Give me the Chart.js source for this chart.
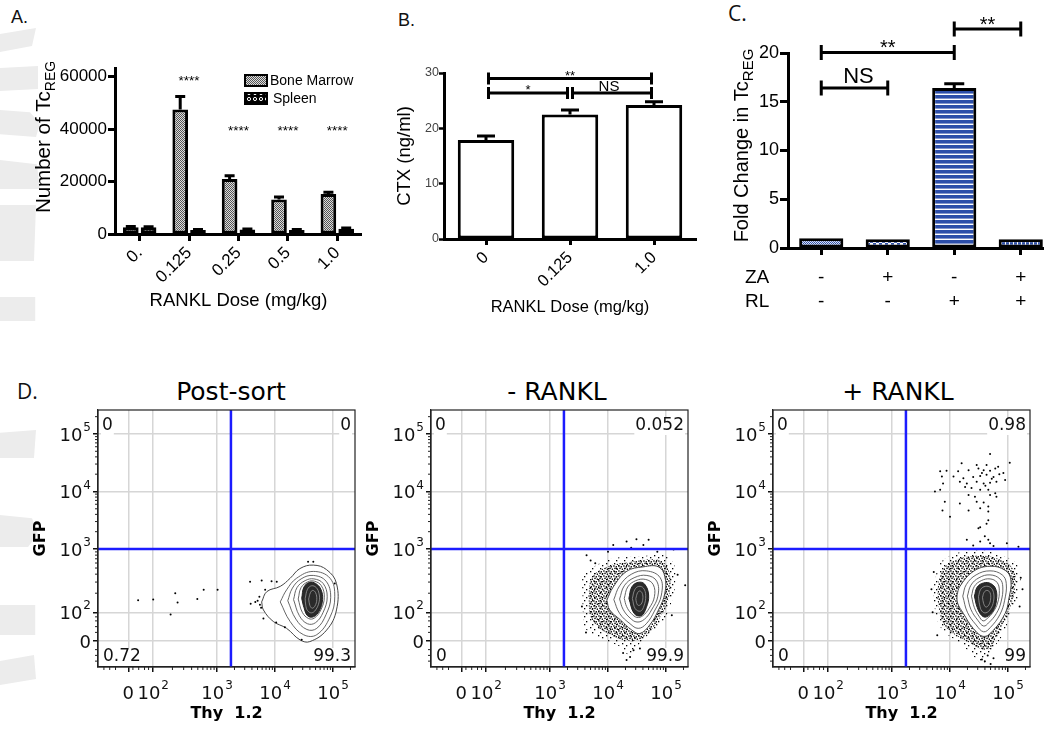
<!DOCTYPE html>
<html>
<head>
<meta charset="utf-8">
<script src="https://cdn.jsdelivr.net/npm/chart.js@4.4.1/dist/chart.umd.min.js"></script>
<style>
  html, body { margin: 0; padding: 0; background: #fff; }
  body { width: 1044px; height: 732px; position: relative; overflow: hidden; font-family: 'Liberation Sans', Arial, sans-serif; }
  canvas { position: absolute; }
  .txt { position: absolute; white-space: nowrap; color: #111; line-height: 1; }
  .ttl { position: absolute; width: 220px; text-align: center; font-family: 'DejaVu Sans', sans-serif; font-size: 25px; line-height: 25px; color: #000; }
  .ghost { position: absolute; left: 0; width: 40px; background: #ececec; }
</style>
</head>
<body>
<!-- faint grey marks along the left edge -->
<div class="ghost" style="top:28px;height:24px;clip-path:polygon(0 25%,90% 0,80% 75%,0 100%)"></div>
<div class="ghost" style="top:66px;height:25px;clip-path:polygon(0 8%,95% 0,95% 92%,0 100%)"></div>
<div class="ghost" style="top:110px;height:27px;clip-path:polygon(0 0,75% 8%,100% 50%,90% 100%,0 90%)"></div>
<div class="ghost" style="top:160px;height:29px;clip-path:polygon(0 0,92% 15%,100% 100%,0 100%)"></div>
<div class="ghost" style="top:205px;height:56px;clip-path:polygon(0 0,90% 0,85% 100%,0 100%)"></div>
<div class="ghost" style="top:297px;height:24px;clip-path:polygon(0 0,88% 0,88% 100%,0 100%)"></div>
<div class="ghost" style="top:430px;height:28px;clip-path:polygon(0 10%,90% 0,85% 100%,0 100%)"></div>
<div class="ghost" style="top:515px;height:32px;clip-path:polygon(0 0,80% 10%,95% 60%,70% 100%,0 100%)"></div>
<div class="ghost" style="top:605px;height:30px;clip-path:polygon(0 0,88% 0,88% 100%,0 100%)"></div>
<div class="ghost" style="top:655px;height:30px;clip-path:polygon(0 20%,85% 0,90% 80%,0 100%)"></div>

<div class="txt" style="left:11px;top:8px;font-size:18px;">A.</div>
<div class="txt" style="left:398px;top:11px;font-size:18px;">B.</div>
<div class="txt" style="left:728px;top:3px;font-size:21px;font-family:'Open Sans',sans-serif;">C.</div>
<div class="txt" style="left:17px;top:381px;font-size:21px;font-family:'Open Sans',sans-serif;">D.</div>
<div class="ttl" style="left:121px;top:379px;">Post-sort</div>
<div class="ttl" style="left:447px;top:379px;">- RANKL</div>
<div class="ttl" style="left:788px;top:379px;">+ RANKL</div>

<canvas id="cA" width="362" height="320" style="left:0;top:0"></canvas>
<canvas id="cB" width="340" height="320" style="left:360px;top:0"></canvas>
<canvas id="cC" width="370" height="320" style="left:690px;top:0"></canvas>
<canvas id="cD1" width="362" height="362" style="left:0;top:370px"></canvas>
<canvas id="cD2" width="362" height="362" style="left:333px;top:370px"></canvas>
<canvas id="cD3" width="362" height="362" style="left:675px;top:370px"></canvas>

<script>
// ---------- panel A ----------
const doseLabelsA = ['0.', '0.125', '0.25', '0.5', '1.0'];
const marrowCounts = [2600, 47500, 21000, 13200, 15300];
const marrowErr = [300, 4900, 1200, 900, 600];
const spleenCounts = [2600, 1500, 1700, 1500, 2000];
const spleenErr = [200, 200, 200, 200, 300];
const starTextA = ['', '****', '****', '****', '****'];
const starLevelsA = [null, 56800, 37800, 37800, 37800];
const yTicksA = [0, 20000, 40000, 60000];

// ---------- panel B ----------
const doseLabelsB = ['0', '0.125', '1.0'];
const ctxValues = [17.9, 22.5, 24.2];
const ctxErr = [0.7, 0.8, 0.6];
const bracketsB = [
  { from: 0, to: 2, level: 29.0, text: '**' },
  { from: 0, to: 1, level: 26.4, text: '*' },
  { from: 1, to: 2, level: 26.4, text: 'NS' }
];

// ---------- panel C ----------
const zaRow = ['-', '+', '-', '+'];
const rlRow = ['-', '-', '+', '+'];
const foldChange = [1.0, 0.9, 16.4, 0.9];
const foldErr = [0, 0, 0.45, 0];
const bracketsC = [
  { from: 0, to: 1, level: 16.4, text: 'NS' },
  { from: 0, to: 2, level: 20.06, text: '**' },
  { from: 2, to: 3, level: 22.47, text: '**' }
];

// ---------- panel D (axis units: 3 = 10^3, 4 = 10^4 ...) ----------
const flowTickLabels = ['0', '10^2', '10^3', '10^4', '10^5'];
const flowXTicks = [1.47, 1.9, 3, 4, 5];
const flowYTicks = [1.40, 1.9, 3, 4, 5];
const gateThy = 3.24;
const gateGfp = 3.0;

const postSortCorners = ['0', '0', '0.72', '99.3'];
const postSortEvents = [[1.64,2.11],[1.90,2.12],[2.20,1.86],[2.28,2.23],[2.32,2.07],[2.66,2.13],[2.77,2.29],[3.01,2.29],
  [3.57,2.43],[3.77,2.45],[3.94,2.44],[4.03,2.43],[3.58,2.05],[3.66,2.08],[3.73,2.17],[3.74,2.03],[3.80,1.79],[3.83,2.29],
  [4.02,1.72],[4.17,1.64],[4.46,1.42],[4.57,2.78],[4.66,2.78],[5.03,2.40],[3.70,2.10],[3.76,1.98]];
const postSortOuter = [[3.77,2.08],[3.86,2.26],[4.09,2.35],[4.26,2.49],[4.43,2.66],[4.66,2.72],[4.89,2.64],[5.06,2.40],
  [5.06,1.94],[4.89,1.59],[4.60,1.39],[4.43,1.42],[4.20,1.62],[3.97,1.74],[3.80,1.94]];
const postSortRings = [
  [[4.09,2.08],[4.20,2.29],[4.37,2.49],[4.66,2.61],[4.95,2.49],[5.03,2.17],[4.95,1.82],[4.72,1.51],[4.49,1.51],[4.26,1.74]],
  [[4.22,2.10],[4.30,2.32],[4.45,2.48],[4.66,2.54],[4.88,2.44],[4.96,2.16],[4.88,1.86],[4.72,1.62],[4.55,1.60],[4.36,1.78]],
  [[4.32,2.12],[4.38,2.33],[4.52,2.45],[4.67,2.48],[4.83,2.40],[4.90,2.17],[4.83,1.90],[4.70,1.72],[4.56,1.70],[4.42,1.84]],
  [[4.40,2.13],[4.45,2.33],[4.57,2.43],[4.68,2.44],[4.80,2.36],[4.85,2.16],[4.79,1.94],[4.68,1.80],[4.58,1.79],[4.47,1.90]]
];
const postSortCore = [[4.46,2.14],[4.50,2.34],[4.60,2.42],[4.70,2.40],[4.79,2.30],[4.82,2.12],[4.76,1.92],[4.66,1.82],[4.56,1.84],[4.50,1.98]];
const postSortCoreRings = [
  [[4.52,2.14],[4.56,2.30],[4.63,2.36],[4.71,2.33],[4.76,2.22],[4.76,2.08],[4.70,1.94],[4.63,1.89],[4.56,1.93],[4.53,2.02]],
  [[4.58,2.13],[4.61,2.24],[4.65,2.28],[4.70,2.24],[4.72,2.12],[4.69,2.01],[4.64,1.97],[4.60,2.02]]
];

const minusCorners = ['0', '0.052', '0', '99.9'];
const minusEvents = [[4.09,3.07],[4.32,3.13],[4.49,3.17],[4.70,3.16],[4.61,3.07],[4.40,3.02],[5.13,2.99],[3.63,2.89],[3.78,2.75],
  [3.70,2.80],[5.33,2.37],[4.26,1.19],[4.32,1.07],[4.44,1.24],[4.55,1.27],[4.38,1.12],[3.62,1.55],[3.55,2.00],[5.20,2.55],
  [5.10,1.85],[4.85,2.95],[4.00,2.95]];
const minusCloud = [[3.56,2.23],[3.57,2.52],[3.75,2.69],[4.09,2.84],[4.55,2.87],[4.95,2.90],[5.13,2.75],[5.16,2.40],[5.07,2.00],
  [4.93,1.71],[4.72,1.53],[4.55,1.36],[4.38,1.15],[4.21,1.30],[3.92,1.42],[3.63,1.59],[3.57,1.88]];
const minusRim = [[3.66,2.18],[3.72,2.50],[3.95,2.68],[4.40,2.78],[4.90,2.80],[5.05,2.62],[5.06,2.20],[4.92,1.85],[4.70,1.55],
  [4.45,1.40],[4.05,1.50],[3.72,1.78]];
const minusOuter = [[3.98,2.11],[4.09,2.34],[4.32,2.61],[4.61,2.69],[4.87,2.69],[4.98,2.52],[4.98,2.23],[4.87,1.94],[4.72,1.68],
  [4.55,1.53],[4.41,1.59],[4.21,1.77],[4.03,1.94]];
const minusRings = [
  [[4.10,2.12],[4.20,2.36],[4.40,2.56],[4.66,2.62],[4.90,2.50],[4.92,2.20],[4.80,1.92],[4.66,1.70],[4.52,1.62],[4.38,1.70],[4.20,1.88]],
  [[4.20,2.13],[4.28,2.36],[4.45,2.50],[4.67,2.54],[4.84,2.44],[4.86,2.18],[4.75,1.94],[4.63,1.78],[4.50,1.73],[4.38,1.80],[4.26,1.95]],
  [[4.28,2.14],[4.34,2.34],[4.48,2.45],[4.65,2.47],[4.78,2.38],[4.80,2.17],[4.71,1.97],[4.60,1.84],[4.50,1.81],[4.40,1.88],[4.32,2.00]]
];
const minusCore = [[4.36,2.14],[4.41,2.34],[4.52,2.42],[4.63,2.39],[4.70,2.20],[4.66,1.98],[4.57,1.84],[4.45,1.88]];
const minusCoreRings = [
  [[4.42,2.14],[4.46,2.29],[4.53,2.35],[4.61,2.32],[4.65,2.19],[4.62,2.01],[4.56,1.92],[4.47,1.96]],
  [[4.48,2.14],[4.51,2.24],[4.55,2.27],[4.59,2.23],[4.60,2.13],[4.57,2.04],[4.52,2.02],[4.49,2.07]]
];

const plusCorners = ['0', '0.98', '0', '99'];
const plusEvents = [[4.69,4.65],[5.03,4.50],[4.20,4.49],[4.46,4.46],[4.63,4.46],[4.83,4.43],[3.83,4.35],[3.94,4.36],[4.14,4.35],
  [4.32,4.37],[4.49,4.40],[4.58,4.37],[4.69,4.36],[4.78,4.40],[4.92,4.32],[3.86,4.26],[4.06,4.26],[4.23,4.23],[4.40,4.25],
  [4.52,4.27],[4.63,4.29],[4.75,4.25],[4.95,4.20],[3.88,4.14],[4.17,4.17],[4.29,4.14],[4.46,4.17],[4.58,4.14],[4.69,4.15],
  [4.80,4.17],[3.74,4.00],[3.83,4.03],[4.26,4.08],[4.37,4.06],[4.52,4.03],[4.66,4.03],[4.78,3.97],[4.32,3.94],[4.43,3.91],
  [4.69,3.94],[4.80,3.91],[3.91,3.82],[4.17,3.79],[4.46,3.82],[4.58,3.81],[4.66,3.74],[3.87,3.67],[4.32,3.67],[4.52,3.71],
  [4.66,3.65],[4.00,3.56],[4.66,3.50],[4.63,3.44],[4.52,3.38],[4.49,3.36],[4.55,4.32],[4.72,4.22],[4.61,4.10],[4.85,4.30],
  [4.29,3.16],[4.52,3.13],[4.66,3.16],[4.69,3.10],[4.98,3.10],[5.18,3.04],[4.40,3.06],[4.60,3.22],[4.75,3.05],
  [4.60,1.05],[4.70,1.00],[4.75,1.10],[4.65,1.15],[4.55,1.08],[3.68,2.30],[3.70,1.90],[3.78,1.50],[3.72,2.60],
  [5.22,2.50],[5.20,2.00],[5.25,2.30]];
const plusCloud = [[3.71,2.11],[3.74,2.46],[3.88,2.81],[4.40,2.98],[4.86,2.90],[5.18,2.69],[5.18,2.17],[5.09,2.00],[4.92,1.53],
  [4.69,1.19],[4.60,1.00],[4.17,1.36],[3.83,1.65]];
const plusRim = [[3.78,2.12],[3.82,2.50],[3.98,2.75],[4.40,2.88],[4.85,2.82],[5.10,2.62],[5.10,2.20],[4.98,1.85],[4.82,1.52],
  [4.65,1.25],[4.25,1.42],[3.90,1.68]];
const plusOuter = [[4.12,2.20],[4.17,2.35],[4.40,2.61],[4.69,2.70],[4.95,2.63],[5.05,2.46],[5.01,2.11],[4.95,1.88],[4.75,1.59],
  [4.58,1.48],[4.40,1.62],[4.23,1.88],[4.13,2.06]];
const plusRings = [
  [[4.22,2.18],[4.28,2.38],[4.45,2.55],[4.69,2.62],[4.90,2.55],[4.97,2.40],[4.94,2.10],[4.86,1.86],[4.70,1.64],[4.58,1.56],[4.45,1.68],[4.30,1.90]],
  [[4.30,2.18],[4.36,2.37],[4.50,2.50],[4.69,2.55],[4.86,2.48],[4.91,2.34],[4.88,2.08],[4.80,1.88],[4.67,1.72],[4.58,1.66],[4.48,1.76],[4.36,1.95]],
  [[4.37,2.18],[4.42,2.35],[4.54,2.45],[4.69,2.48],[4.81,2.42],[4.85,2.28],[4.82,2.06],[4.74,1.90],[4.64,1.79],[4.57,1.75],[4.50,1.83],[4.42,1.98]]
];
const plusCore = [[4.42,2.18],[4.47,2.34],[4.58,2.41],[4.70,2.40],[4.79,2.30],[4.80,2.10],[4.74,1.92],[4.63,1.82],[4.55,1.84],[4.47,1.98]];
const plusCoreRings = [
  [[4.49,2.17],[4.53,2.30],[4.61,2.35],[4.70,2.33],[4.75,2.24],[4.75,2.09],[4.70,1.96],[4.62,1.89],[4.55,1.92],[4.51,2.03]],
  [[4.56,2.16],[4.59,2.25],[4.64,2.28],[4.69,2.24],[4.70,2.13],[4.67,2.03],[4.62,1.99],[4.58,2.05]]
];

// ---------- shared look ----------
Chart.defaults.font.family = "'Liberation Sans', Arial, sans-serif";
Chart.defaults.color = '#000';
Chart.defaults.animation = false;
Chart.defaults.events = [];
Chart.defaults.plugins.legend.display = false;
Chart.defaults.plugins.tooltip.enabled = false;

const BLUE = '#2c4ea9';
const GATE = '#1c1cff';
const FLOW_X = [0.948, 5.379];
const FLOW_Y = [0.948, 5.417];

function tilePattern(w, h, paint) {
  const c = document.createElement('canvas');
  c.width = w; c.height = h;
  const g = c.getContext('2d');
  paint(g);
  return g.createPattern(c, 'repeat');
}
const patMarrow = tilePattern(2, 2, g => { g.fillStyle = '#dcdcdc'; g.fillRect(0, 0, 2, 2); g.fillStyle = '#555'; g.fillRect(0, 0, 1, 1); g.fillRect(1, 1, 1, 1); });
const patSpleen = tilePattern(6, 6, g => { g.fillStyle = '#000'; g.fillRect(0, 0, 6, 6); g.strokeStyle = '#fff'; g.lineWidth = 1; g.beginPath(); g.arc(3, 3, 1.6, 0, Math.PI * 2); g.stroke(); });
const patC1 = tilePattern(2, 2, g => { g.fillStyle = '#dfe5f4'; g.fillRect(0, 0, 2, 2); g.fillStyle = BLUE; g.fillRect(0, 0, 1, 1); g.fillRect(1, 1, 1, 1); });
const patC2 = tilePattern(6, 6, g => { g.fillStyle = '#fff'; g.fillRect(0, 0, 6, 6); g.fillStyle = BLUE; g.fillRect(0, 0, 3, 3); g.fillRect(3, 3, 3, 3); });
const patC3 = tilePattern(4, 5, g => { g.fillStyle = '#fff'; g.fillRect(0, 0, 4, 5); g.fillStyle = BLUE; g.fillRect(0, 0, 4, 3); g.fillStyle = '#8395cc'; g.fillRect(0, 3, 4, 1); });
const patC4 = tilePattern(4, 4, g => { g.fillStyle = '#fff'; g.fillRect(0, 0, 4, 4); g.fillStyle = BLUE; g.fillRect(0, 0, 3, 4); });
const patDense = tilePattern(5, 5, g => { g.fillStyle = '#000'; [[0.2,0.3],[2.6,1.1],[1.3,2.7],[3.7,3.5]].forEach(p => g.fillRect(p[0], p[1], 1.4, 1.4)); });
const patSparse = tilePattern(8, 8, g => { g.fillStyle = '#000'; [[1,1],[5,3],[3,6]].forEach(p => g.fillRect(p[0], p[1], 1.3, 1.3)); });

const tickGrid = (len, w) => ({ drawOnChartArea: false, drawTicks: true, tickLength: len, tickWidth: w, tickColor: '#000', offset: false });
const axisLine = { color: '#000', width: 3 };

// ---------- plugins ----------
function errorBars(errSets, capHalf, lw) {
  return {
    id: 'errorBars',
    afterDatasetsDraw(chart) {
      const ctx = chart.ctx, ys = chart.scales.y;
      errSets.forEach((errs, di) => {
        const vals = chart.data.datasets[di].data;
        chart.getDatasetMeta(di).data.forEach((bar, i) => {
          if (!errs[i]) return;
          const top = ys.getPixelForValue(vals[i] + errs[i]);
          ctx.save();
          ctx.strokeStyle = '#000'; ctx.lineWidth = lw;
          ctx.beginPath();
          ctx.moveTo(bar.x, bar.y); ctx.lineTo(bar.x, top);
          ctx.moveTo(bar.x - capHalf, top); ctx.lineTo(bar.x + capHalf, top);
          ctx.stroke();
          ctx.restore();
        });
      });
    }
  };
}

function brackets(list, o) {
  return {
    id: 'brackets',
    afterDraw(chart) {
      const { ctx, scales: { x, y } } = chart;
      ctx.save();
      ctx.strokeStyle = '#000'; ctx.fillStyle = '#000'; ctx.lineWidth = o.lw;
      ctx.textAlign = 'center'; ctx.textBaseline = 'alphabetic';
      list.forEach(b => {
        const x1 = x.getPixelForValue(b.from) + o.gap;
        const x2 = x.getPixelForValue(b.to) - o.gap;
        const yy = y.getPixelForValue(b.level);
        ctx.beginPath();
        ctx.moveTo(x1, yy); ctx.lineTo(x2, yy);
        ctx.moveTo(x1, yy - o.cap); ctx.lineTo(x1, yy + o.cap);
        ctx.moveTo(x2, yy - o.cap); ctx.lineTo(x2, yy + o.cap);
        ctx.stroke();
        const ns = b.text === 'NS';
        ctx.font = (ns ? o.nsSize : o.starSize) + "px 'Liberation Sans'";
        ctx.fillText(b.text, (x1 + x2) / 2 + (ns ? o.nsDx : 0), yy + (ns ? o.nsDy : o.starDy));
      });
      ctx.restore();
    }
  };
}

function subTitle(main, sub, cx, cy, size, subSize) {
  return {
    id: 'subTitle',
    afterDraw(chart) {
      const ctx = chart.ctx;
      ctx.save();
      ctx.translate(cx, cy); ctx.rotate(-Math.PI / 2);
      ctx.fillStyle = '#000'; ctx.textAlign = 'left'; ctx.textBaseline = 'alphabetic';
      ctx.font = size + "px 'Liberation Sans'";
      const w1 = ctx.measureText(main).width;
      ctx.font = subSize + "px 'Liberation Sans'";
      const w2 = ctx.measureText(sub).width;
      const x0 = -(w1 + w2) / 2;
      ctx.font = size + "px 'Liberation Sans'";
      ctx.fillText(main, x0, 0);
      ctx.font = subSize + "px 'Liberation Sans'";
      ctx.fillText(sub, x0 + w1, subSize * 0.33);
      ctx.restore();
    }
  };
}

const starsA = {
  id: 'starsA',
  afterDatasetsDraw(chart) {
    const { ctx, scales: { x, y } } = chart;
    ctx.save();
    ctx.font = "13.5px 'Liberation Sans'"; ctx.textAlign = 'center'; ctx.fillStyle = '#000';
    starTextA.forEach((t, i) => { if (t) ctx.fillText(t, x.getPixelForValue(i), y.getPixelForValue(starLevelsA[i])); });
    ctx.restore();
  }
};

const legendA = {
  id: 'legendA',
  afterDraw(chart) {
    const ctx = chart.ctx;
    const rows = [[chart.data.datasets[0], 75, 270], [chart.data.datasets[1], 93, 273]];
    ctx.save();
    rows.forEach(([ds, top, tx]) => {
      ctx.fillStyle = ds.backgroundColor; ctx.fillRect(245, top, 22, 11);
      ctx.strokeStyle = '#000'; ctx.lineWidth = 2; ctx.strokeRect(245, top, 22, 11);
      ctx.fillStyle = '#000'; ctx.font = "14px 'Liberation Sans'"; ctx.textBaseline = 'middle'; ctx.textAlign = 'left';
      ctx.fillText(ds.label, tx, top + 6);
    });
    ctx.restore();
  }
};

const rowNamesC = {
  id: 'rowNamesC',
  afterDraw(chart) {
    const ctx = chart.ctx, top = chart.scales.x.top;
    ctx.save();
    ctx.font = "19px 'Liberation Sans'"; ctx.fillStyle = '#000'; ctx.textBaseline = 'middle'; ctx.textAlign = 'left';
    ['ZA', 'RL'].forEach((t, i) => ctx.fillText(t, 55, top + 18 + 24 * (i + 0.5)));
    ctx.restore();
  }
};

// ---------- A ----------
new Chart(document.getElementById('cA'), {
  type: 'bar',
  data: {
    labels: doseLabelsA,
    datasets: [
      { label: 'Bone Marrow', data: marrowCounts, backgroundColor: patMarrow, borderColor: '#000', borderWidth: 3, borderSkipped: false, categoryPercentage: 0.72, barPercentage: 0.88 },
      { label: 'Spleen', data: spleenCounts, backgroundColor: patSpleen, borderColor: '#000', borderWidth: 3, borderSkipped: false, categoryPercentage: 0.72, barPercentage: 0.88 }
    ]
  },
  options: {
    responsive: false,
    layout: { padding: { top: 68, right: 0, bottom: 0, left: 0 } },
    scales: {
      x: {
        grid: tickGrid(7, 3), border: axisLine,
        ticks: { autoSkip: false, maxRotation: 45, minRotation: 45, padding: 2, font: { size: 17 } },
        title: { display: true, text: 'RANKL Dose (mg/kg)', font: { size: 18.5 }, padding: { top: 0, bottom: 8 } },
        afterFit: s => { s.height = 86; }
      },
      y: {
        min: 0, max: 63300,
        afterBuildTicks: s => { s.ticks = yTicksA.map(v => ({ value: v })); },
        grid: tickGrid(7, 3), border: axisLine,
        ticks: { font: { size: 17 }, padding: 1, callback: v => String(v) },
        afterFit: s => { s.width = 115; }
      }
    }
  },
  plugins: [errorBars([marrowErr, spleenErr], 5, 3), starsA, legendA, subTitle('Number of Tc', 'REG', 50, 137, 20.5, 14)]
});

// ---------- B ----------
new Chart(document.getElementById('cB'), {
  type: 'bar',
  data: {
    labels: doseLabelsB,
    datasets: [{ data: ctxValues, backgroundColor: '#fff', borderColor: '#000', borderWidth: 3, borderSkipped: false, categoryPercentage: 0.8, barPercentage: 0.84 }]
  },
  options: {
    responsive: false,
    layout: { padding: { top: 73, right: 4, bottom: 0, left: 0 } },
    scales: {
      x: {
        grid: tickGrid(6, 3), border: axisLine,
        ticks: { autoSkip: false, maxRotation: 45, minRotation: 45, padding: 3, font: { size: 16.5 } },
        title: { display: true, text: 'RANKL Dose (mg/kg)', font: { size: 16.5 }, padding: { top: 0, bottom: 3 } },
        afterFit: s => { s.height = 81; }
      },
      y: {
        min: 0, max: 30,
        ticks: { stepSize: 10, font: { size: 12.5 }, color: '#444', padding: 0 },
        grid: tickGrid(5, 2.5), border: axisLine,
        title: { display: true, text: 'CTX (ng/ml)', font: { size: 18.5 }, padding: { top: 34, bottom: 0 } },
        afterFit: s => { s.width = 84; }
      }
    }
  },
  plugins: [errorBars([ctxErr], 9, 3), brackets(bracketsB, { lw: 3, cap: 6, gap: 2.5, nsSize: 15, starSize: 13, nsDy: -1.5, starDy: 1, nsDx: -3 })]
});

// ---------- C ----------
new Chart(document.getElementById('cC'), {
  type: 'bar',
  data: {
    labels: zaRow.map((z, i) => [z, rlRow[i]]),
    datasets: [{ data: foldChange, backgroundColor: [patC1, patC2, patC3, patC4], borderColor: '#000', borderWidth: 3, borderSkipped: false, categoryPercentage: 0.8, barPercentage: 0.83 }]
  },
  options: {
    responsive: false,
    layout: { padding: { top: 53, right: 6, bottom: 0, left: 0 } },
    scales: {
      x: {
        grid: tickGrid(7, 3), border: axisLine,
        ticks: { autoSkip: false, maxRotation: 0, padding: 11, font: { size: 19, lineHeight: 1.26 } },
        afterFit: s => { s.height = 72; }
      },
      y: {
        min: 0, max: 20,
        ticks: { stepSize: 5, font: { size: 18 }, padding: 1 },
        grid: tickGrid(8, 3), border: axisLine,
        afterFit: s => { s.width = 98; }
      }
    }
  },
  plugins: [errorBars([foldErr], 10, 3), rowNamesC,
    brackets(bracketsC, { lw: 3, cap: 7.5, gap: 0, nsSize: 22, starSize: 20, nsDy: -5, starDy: 2, nsDx: 4 }),
    subTitle('Fold Change in Tc', 'REG', 58, 145.5, 20, 15)]
});

// ---------- D ----------
const minorTicks = [1.05, 1.15, 1.25, 1.55, 1.65, 1.75, 1.82];
[2, 3, 4, 5, 6, 7, 8, 9].forEach(k => {
  minorTicks.push(1.9 + 1.1 * Math.log10(k), 3 + Math.log10(k), 4 + Math.log10(k));
});
minorTicks.push(5 + Math.log10(2));

function drawPow(ctx, label, x, y, align) {
  const [base, pow] = label.split('^');
  ctx.font = "18px 'DejaVu Sans'";
  const w1 = ctx.measureText(base).width;
  ctx.font = "12px 'DejaVu Sans'";
  const w2 = pow ? ctx.measureText(pow).width + 1 : 0;
  const total = w1 + w2;
  const x0 = align === 'right' ? x - total : x - total / 2;
  ctx.textAlign = 'left'; ctx.textBaseline = 'middle';
  ctx.font = "18px 'DejaVu Sans'";
  ctx.fillText(base, x0, y);
  if (pow) { ctx.font = "12px 'DejaVu Sans'"; ctx.fillText(pow, x0 + w1 + 1, y - 8); }
}

function flowDecor(corners) {
  return {
    id: 'flowDecor',
    afterDraw(chart) {
      const { ctx, chartArea: a, scales: { x, y } } = chart;
      ctx.save();
      ctx.strokeStyle = '#222'; ctx.lineWidth = 1.2;
      ctx.strokeRect(a.left, a.top, a.right - a.left, a.bottom - a.top);
      ctx.lineWidth = 1;
      ctx.beginPath();
      minorTicks.forEach(p => {
        if (p > x.min && p < x.max) { const px = x.getPixelForValue(p); ctx.moveTo(px, a.bottom); ctx.lineTo(px, a.bottom + 3); }
        if (p > y.min && p < y.max) { const py = y.getPixelForValue(p); ctx.moveTo(a.left - 3, py); ctx.lineTo(a.left, py); }
      });
      ctx.stroke();
      ctx.fillStyle = '#111';
      flowTickLabels.forEach((lab, i) => {
        drawPow(ctx, lab, x.getPixelForValue(flowXTicks[i]), a.bottom + 27, 'center');
        drawPow(ctx, lab, a.left - 7, y.getPixelForValue(flowYTicks[i]) + 2, 'right');
      });
      ctx.font = "17px 'DejaVu Sans'"; ctx.textBaseline = 'middle';
      const spots = [[a.left + 4, a.top + 16, 'left'], [a.right - 4, a.top + 16, 'right'], [a.left + 5, a.bottom - 10, 'left'], [a.right - 4, a.bottom - 10, 'right']];
      corners.forEach((t, i) => {
        const [tx, ty, al] = spots[i];
        const w = ctx.measureText(t).width;
        const bx = al === 'left' ? tx - 1 : tx - w - 1;
        ctx.fillStyle = '#fff'; ctx.fillRect(bx, ty - 9, w + 2, 18);
        ctx.fillStyle = '#111'; ctx.textAlign = al; ctx.fillText(t, tx, ty);
      });
      ctx.restore();
    }
  };
}

function flowChart(id, P) {
  const pts = arr => arr.map(p => ({ x: p[0], y: p[1] }));
  const ring = arr => pts(arr.concat([arr[0]]));
  const loop = (arr, extra) => Object.assign({ data: ring(arr), showLine: true, pointRadius: 0, tension: 0.4 }, extra);
  const datasets = [
    { data: [{ x: gateThy, y: FLOW_Y[0] }, { x: gateThy, y: FLOW_Y[1] }], showLine: true, borderColor: GATE, borderWidth: 2.5, pointRadius: 0, order: 0 },
    { data: [{ x: FLOW_X[0], y: gateGfp }, { x: FLOW_X[1], y: gateGfp }], showLine: true, borderColor: GATE, borderWidth: 2.5, pointRadius: 0, order: 0 },
    { data: pts(P.events), pointRadius: 1, pointBackgroundColor: '#000', pointBorderWidth: 0, order: 1 }
  ];
  P.coreRings.forEach(r => datasets.push(loop(r, { fill: false, borderColor: '#9a9a9a', borderWidth: 0.8, order: 1.5 })));
  datasets.push(loop(P.core, { fill: 'shape', backgroundColor: '#2a2a2a', borderColor: '#222', borderWidth: 1, order: 2 }));
  P.rings.forEach(r => datasets.push(loop(r, { fill: false, borderColor: '#555', borderWidth: 0.9, order: 3 })));
  datasets.push(loop(P.outer, { fill: 'shape', backgroundColor: '#fff', borderColor: '#444', borderWidth: 1, order: 4 }));
  if (P.rim) datasets.push(loop(P.rim, { fill: 'shape', backgroundColor: patDense, borderWidth: 0, order: 5 }));
  if (P.cloud) datasets.push(loop(P.cloud, { fill: 'shape', backgroundColor: patSparse, borderWidth: 0, order: 6 }));

  const flowGrid = { color: '#d6d6d6', lineWidth: 1.5, drawTicks: true, tickLength: 5, tickWidth: 1.5, tickColor: '#111' };
  new Chart(document.getElementById(id), {
    type: 'scatter',
    data: { datasets },
    options: {
      responsive: false,
      layout: { padding: { top: 40, right: 7, bottom: 0, left: 0 } },
      scales: {
        x: {
          type: 'linear', min: FLOW_X[0], max: FLOW_X[1],
          afterBuildTicks: s => { s.ticks = flowXTicks.map(v => ({ value: v })); },
          grid: flowGrid, border: { color: '#222', width: 1.2 }, ticks: { display: false },
          title: { display: true, text: 'Thy  1.2', font: { family: "'DejaVu Sans'", size: 16, weight: 'bold' }, padding: { top: 0, bottom: 9 } },
          afterFit: s => { s.height = 65; }
        },
        y: {
          type: 'linear', min: FLOW_Y[0], max: FLOW_Y[1],
          afterBuildTicks: s => { s.ticks = flowYTicks.map(v => ({ value: v })); },
          grid: flowGrid, border: { color: '#222', width: 1.2 }, ticks: { display: false },
          title: { display: true, text: 'GFP', font: { family: "'DejaVu Sans'", size: 16, weight: 'bold' }, padding: { top: 31, bottom: 0 } },
          afterFit: s => { s.width = 98; }
        }
      }
    },
    plugins: [flowDecor(P.corners)]
  });
}

flowChart('cD1', { events: postSortEvents, core: postSortCore, coreRings: postSortCoreRings, rings: postSortRings, outer: postSortOuter, corners: postSortCorners });
flowChart('cD2', { events: minusEvents, core: minusCore, coreRings: minusCoreRings, rings: minusRings, outer: minusOuter, rim: minusRim, cloud: minusCloud, corners: minusCorners });
flowChart('cD3', { events: plusEvents, core: plusCore, coreRings: plusCoreRings, rings: plusRings, outer: plusOuter, rim: plusRim, cloud: plusCloud, corners: plusCorners });
</script>
</body>
</html>
